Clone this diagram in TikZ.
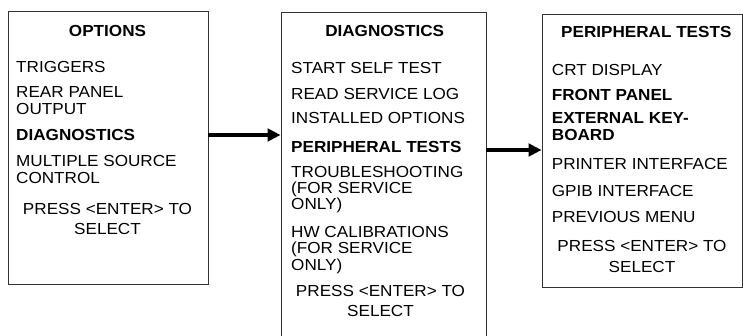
\documentclass[tikz,border=0pt]{standalone}
\usepackage{fontspec}
\setmainfont{Liberation Sans}[FakeStretch=1.07]
\usetikzlibrary{arrows.meta}
\tikzset{
  menubox/.style={draw=black!80, line width=0.9pt, inner sep=0pt},
  item/.style={anchor=base west, inner sep=0pt, font=\fontsize{16}{18}\selectfont},
  centred/.style={anchor=base, inner sep=0pt, font=\fontsize{16}{18}\selectfont},
  heading/.style={anchor=base, inner sep=0pt, font=\fontsize{16}{18}\selectfont\bfseries},
  flow/.style={line width=4.6pt, -{Triangle[length=13pt,width=12.5pt]}}
}

\begin{document}
\begin{tikzpicture}[x=1pt,y=-1pt]
            \useasboundingbox (0,0) rectangle (743,336);

            % Boxes
            \node[menubox, minimum width=200pt, minimum height=273pt] (opt) at (108,147.5) {};
            \node[menubox, minimum width=205pt, minimum height=330pt] (diag) at (383.5,177) {};
            \node[menubox, minimum width=200pt, minimum height=273pt] (peri) at (642,150.5) {};

            % Left box: options menu
            \node[heading] (optT) at (107.5,36.7) {OPTIONS};
            \foreach \y/\t [count=\i] in {72.3/TRIGGERS, 97.3/REAR PANEL, 114.3/OUTPUT,
                140.7/\textbf{DIAGNOSTICS}, 166.7/MULTIPLE SOURCE, 183.3/CONTROL}
                \node[item] (opt\i) at (16,\y) {\t};
            \node[centred] (optP) at (107.5,215) {PRESS <ENTER> TO};
            \node[centred] (optS) at (107.5,235) {SELECT};

            % Middle box: diagnostics menu
            \node[heading] (diagT) at (384.7,36.7) {DIAGNOSTICS};
            \foreach \y/\t [count=\i] in {73.3/START SELF TEST, 99.3/READ SERVICE LOG,
                124/INSTALLED OPTIONS, 152.7/\textbf{PERIPHERAL TESTS}, 177.7/TROUBLESHOOTING,
                194/(FOR SERVICE, 210/ONLY), 237.3/HW CALIBRATIONS, 254/(FOR SERVICE, 270/ONLY)}
                \node[item] (diag\i) at (291,\y) {\t};
            \node[centred] (diagP) at (380.5,296.7) {PRESS <ENTER> TO};
            \node[centred] (diagS) at (380.5,316.7) {SELECT};

            % Right box: peripheral tests menu
            \node[heading] (periT) at (646.3,37.7) {PERIPHERAL TESTS};
            \foreach \y/\t [count=\i] in {76/CRT DISPLAY, 101/\textbf{FRONT PANEL},
                123.3/\textbf{EXTERNAL KEY-}, 141/\textbf{BOARD}, 170/PRINTER INTERFACE,
                196.7/GPIB INTERFACE, 222.7/PREVIOUS MENU}
                \node[item] (peri\i) at (551.7,\y) {\t};
            \node[centred] (periP) at (642,251.7) {PRESS <ENTER> TO};
            \node[centred] (periS) at (642,272.7) {SELECT};

            % Arrows between menus
            \coordinate (a1) at (0,135);
            \coordinate (a2) at (0,150);
            \draw[flow] (opt.east |- a1) -- (diag.west |- a1);
            \draw[flow] (diag.east |- a2) -- (peri.west |- a2);
        \end{tikzpicture}
\end{document}
